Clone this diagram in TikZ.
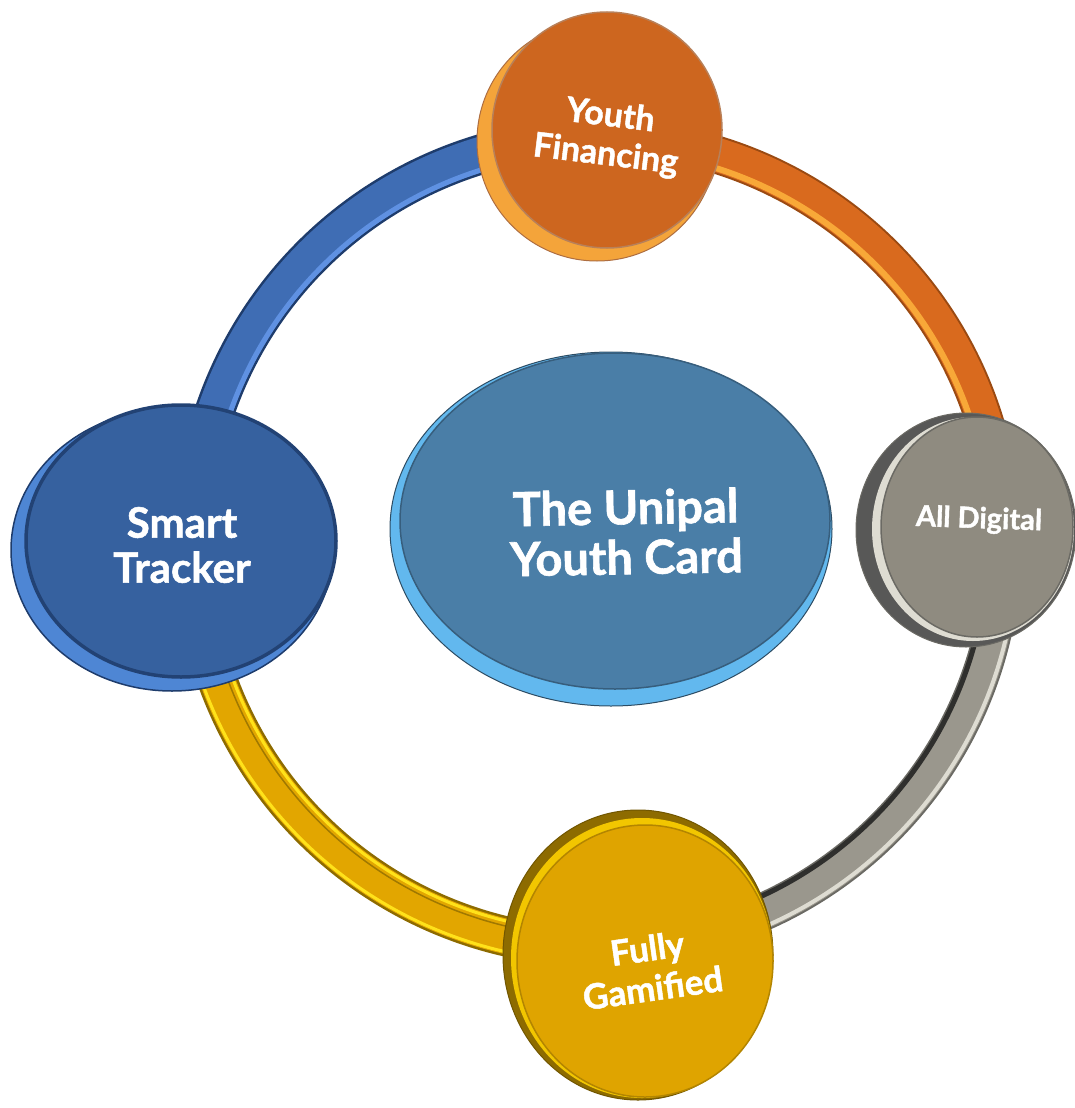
\documentclass[tikz,border=0pt]{standalone}
\usepackage{fontspec}
\setmainfont{Lato}[BoldFeatures={FakeBold=1.3}]
\definecolor{bluemain}{HTML}{3F6DB4}
\definecolor{bluedark}{HTML}{1E3C6C}
\definecolor{bluelight}{HTML}{5F91E2}
\definecolor{orgmain}{HTML}{D96A1E}
\definecolor{orgdark}{HTML}{9A4A12}
\definecolor{orglight}{HTML}{F8A838}
\definecolor{graymain}{HTML}{9A978D}
\definecolor{grayout}{HTML}{6B6A64}
\definecolor{graydeep}{HTML}{2F2F2D}
\definecolor{graylight}{HTML}{DEDCD2}
\definecolor{goldmain}{HTML}{E2A600}
\definecolor{golddark}{HTML}{8D6B00}
\definecolor{goldyel}{HTML}{FFE21A}
\definecolor{goldmid}{HTML}{A07800}
\definecolor{topface}{HTML}{CD661F}
\definecolor{toprim}{HTML}{F4A43A}
\definecolor{leftface}{HTML}{36619F}
\definecolor{leftrim}{HTML}{4E86D4}
\definecolor{rightface}{HTML}{8F8B80}
\definecolor{botface}{HTML}{DFA400}
\definecolor{botrim}{HTML}{F2C600}
\definecolor{cenface}{HTML}{4A7EA7}
\definecolor{cenrim}{HTML}{62B8EE}
\newcommand\ringarc[4]{\draw[#1] ([shift={(#2:#4)}]ring) arc[start angle=#2, end angle=#3, radius=#4];}
\begin{document}
\begin{tikzpicture}[x=1pt,y=-1pt,
  lbl/.style={text=white, font=\bfseries, align=center, inner sep=0pt},
  seg/.style={line cap=butt}]
\useasboundingbox (0,0) rectangle (1074,1108);
\coordinate (ring) at (598,542);
% ---- ring segments ----
% blue (top -> left)
\ringarc{seg, line width=40pt, bluedark}{-88}{-180}{405}
\ringarc{seg, line width=35pt, bluemain}{-88}{-180}{405}
\ringarc{seg, line width=5pt, bluelight}{-88}{-180}{390}
% orange (top -> right)
\ringarc{seg, line width=38pt, orgdark}{-2}{-88}{405}
\ringarc{seg, line width=34pt, orgmain}{-2}{-88}{405}
\ringarc{seg, line width=6pt, orglight}{-2}{-88}{392}
% gray (right -> bottom)
\ringarc{seg, line width=38pt, grayout}{84}{-2}{405}
\ringarc{seg, line width=34pt, graymain}{84}{-2}{405}
\ringarc{seg, line width=5pt, graydeep}{84}{-2}{390}
\ringarc{seg, line width=4pt, graylight}{84}{-2}{419}
% gold (left -> bottom)
\ringarc{seg, line width=40pt, golddark}{-180}{-276}{405}
\ringarc{seg, line width=35pt, goldmain}{-180}{-276}{405}
\ringarc{seg, line width=3pt, goldyel}{-180}{-276}{390}
\ringarc{seg, line width=3pt, goldyel}{-180}{-276}{420}
\ringarc{seg, line width=1.5pt, goldmid}{-180}{-276}{395}
% ---- top disc ----
\fill[toprim, draw=orgdark!80, line width=1pt] (597,141) ellipse [x radius=120, y radius=120];
\fill[topface, draw=orgdark!70, line width=1.5pt] (607,130) ellipse [x radius=115, y radius=118];
% ---- left disc ----
\fill[leftrim, draw=bluedark, line width=1.5pt] (172,550) ellipse [x radius=161, y radius=141];
\fill[leftface, draw=bluedark!85!leftface, line width=3.5pt] (181,541) ellipse [x radius=155, y radius=136];
% ---- right disc ----
\fill[graydeep!80!white, draw=grayout, line width=1pt] (966,530) ellipse [x radius=110, y radius=117];
\fill[graylight] (973,529) ellipse [x radius=101, y radius=112];
\fill[rightface, draw=grayout, line width=1.5pt] (977,527) ellipse [x radius=96, y radius=110];
% ---- bottom disc ----
\fill[golddark, draw=golddark!80!black, line width=1pt] (638,955) ellipse [x radius=135, y radius=145];
\fill[botrim] (642,958) ellipse [x radius=131, y radius=140];
\fill[botface, draw=goldmid!70!botface, line width=1.5pt] (645,961) ellipse [x radius=128, y radius=136];
% ---- centre disc ----
\fill[cenrim, draw=cenface!60!black, line width=1pt] (611,529) ellipse [x radius=221, y radius=177];
\fill[cenface, draw=cenface!75!black, line width=1.5pt] (615,521) ellipse [x radius=215, y radius=168];
% ---- labels ----
\node[lbl, font=\bfseries\fontsize{47}{50}\selectfont, rotate=1] (centre) at (626,532) {The Unipal\\Youth Card};
\node[lbl, font=\bfseries\fontsize{42}{45}\selectfont] (smart) at (182,545) {Smart\\Tracker};
\node[lbl, font=\bfseries\fontsize{34}{39}\selectfont, rotate=-7] (youth) at (608,136) {Youth\\Financing};
\node[lbl, font=\bfseries\fontsize{29}{32}\selectfont, rotate=-2] (digital) at (979,520) {All Digital};
\node[lbl, font=\bfseries\fontsize{35}{40}\selectfont, rotate=8] (fully) at (650,968) {Fully\\Gamified};
\end{tikzpicture}
\end{document}
